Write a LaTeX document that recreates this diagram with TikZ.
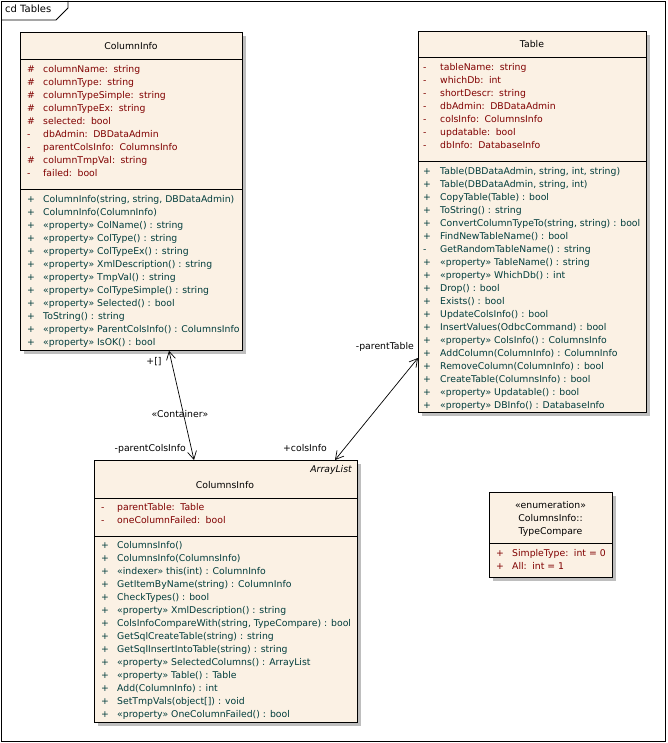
\documentclass[tikz,border=0pt]{standalone}
\usepackage{fontspec}
\setmainfont{DejaVu Sans}
\usetikzlibrary{arrows.meta,calc}
\definecolor{boxfill}{RGB}{251,241,228}
\definecolor{attrcol}{RGB}{128,0,0}
\definecolor{opcol}{RGB}{0,60,60}
\definecolor{shadowcol}{RGB}{190,190,190}
\newcommand{\tsep}{\hspace{5.5pt}}
\tikzset{
  every node/.style={font=\fontsize{9.3}{11}\selectfont, inner sep=0pt},
  classbox/.style={draw=black, line width=0.8pt, fill=boxfill, anchor=north west, inner sep=0pt},
  shadowbox/.style={fill=shadowcol, anchor=north west, inner sep=0pt},
  row/.style={anchor=west, text height=6.5pt, text depth=2pt},
  attr/.style={row, text=attrcol},
  oper/.style={row, text=opcol},
  title/.style={text height=6.5pt, text depth=2pt},
  divider/.style={line width=0.8pt},
  assoc/.style={line width=0.7pt, {Straight Barb[length=8pt,width=9pt]}-{Straight Barb[length=8pt,width=9pt]}},
  lbl/.style={text height=6.5pt, text depth=2pt},
}
\begin{document}
\begin{tikzpicture}[x=1pt,y=-1pt]
\useasboundingbox (0,0) rectangle (667,743);
\fill[white] (0,0) rectangle (667,743);
% frame
\node[draw, line width=0.8pt, anchor=north west, minimum width=664pt, minimum height=740pt] (frame) at (1,1) {};
\draw[line width=0.8pt] ([yshift=-19pt]frame.north west) -- ++(55,0) -- ++(12,-12) -- ([xshift=67pt]frame.north west);
\node[lbl, anchor=west, font=\fontsize{10}{12}\selectfont] (tabtxt) at (5,10) {cd Tables};

% ---------- ColumnInfo ----------
\node[shadowbox, minimum width=222pt, minimum height=318pt] (cishadow) at (24,36) {};
\node[classbox, minimum width=222pt, minimum height=318pt] (ci) at (20,32) {};
\node[title] (ci-title) at (131,47) {ColumnInfo};
\draw[divider] (ci.west |- 0,59) -- (ci.east |- 0,59);
\draw[divider] (ci.west |- 0,189) -- (ci.east |- 0,189);
\foreach \s/\t [count=\i from 0] in {
  \#/{columnName:\tsep string},
  \#/{columnType:\tsep string},
  \#/{columnTypeSimple:\tsep string},
  \#/{columnTypeEx:\tsep string},
  \#/{selected:\tsep bool},
  -/{dbAdmin:\tsep DBDataAdmin},
  -/{parentColsInfo:\tsep ColumnsInfo},
  \#/{columnTmpVal:\tsep string},
  -/{failed:\tsep bool}}{
  \node[attr] (ci-as\i) at (27,{70+13*\i}) {\s};
  \node[attr] (ci-a\i) at (43,{70+13*\i}) {\t};
}
\foreach \s/\t [count=\i from 0] in {
  +/{ColumnInfo(string, string, DBDataAdmin)},
  +/{ColumnInfo(ColumnInfo)},
  +/{«property» ColName() : string},
  +/{«property» ColType() : string},
  +/{«property» ColTypeEx() : string},
  +/{«property» XmlDescription() : string},
  +/{«property» TmpVal() : string},
  +/{«property» ColTypeSimple() : string},
  +/{«property» Selected() : bool},
  +/{ToString() : string},
  +/{«property» ParentColsInfo() : ColumnsInfo},
  +/{«property» IsOK() : bool}}{
  \node[oper] (ci-os\i) at (27,{200+13*\i}) {\s};
  \node[oper] (ci-o\i) at (43,{200+13*\i}) {\t};
}

% ---------- Table ----------
\node[shadowbox, minimum width=228pt, minimum height=381pt] (tbshadow) at (422,35) {};
\node[classbox, minimum width=228pt, minimum height=381pt] (tb) at (418,31) {};
\node[title] (tb-title) at (532,45) {Table};
\draw[divider] (tb.west |- 0,57) -- (tb.east |- 0,57);
\draw[divider] (tb.west |- 0,161) -- (tb.east |- 0,161);
\foreach \s/\t [count=\i from 0] in {
  -/{tableName:\tsep string},
  -/{whichDb:\tsep int},
  -/{shortDescr:\tsep string},
  -/{dbAdmin:\tsep DBDataAdmin},
  -/{colsInfo:\tsep ColumnsInfo},
  -/{updatable:\tsep bool},
  -/{dbInfo:\tsep DatabaseInfo}}{
  \node[attr] (tb-as\i) at (423,{68+13*\i}) {\s};
  \node[attr] (tb-a\i) at (440,{68+13*\i}) {\t};
}
\foreach \s/\t [count=\i from 0] in {
  +/{Table(DBDataAdmin, string, int, string)},
  +/{Table(DBDataAdmin, string, int)},
  +/{CopyTable(Table) : bool},
  +/{ToString() : string},
  +/{ConvertColumnTypeTo(string, string) : bool},
  +/{FindNewTableName() : bool},
  -/{GetRandomTableName() : string},
  +/{«property» TableName() : string},
  +/{«property» WhichDb() : int},
  +/{Drop() : bool},
  +/{Exists() : bool},
  +/{UpdateColsInfo() : bool},
  +/{InsertValues(OdbcCommand) : bool},
  +/{«property» ColsInfo() : ColumnsInfo},
  +/{AddColumn(ColumnInfo) : ColumnInfo},
  +/{RemoveColumn(ColumnInfo) : bool},
  +/{CreateTable(ColumnsInfo) : bool},
  +/{«property» Updatable() : bool},
  +/{«property» DBInfo() : DatabaseInfo}}{
  \node[oper] (tb-os\i) at (423,{172+13*\i}) {\s};
  \node[oper] (tb-o\i) at (440,{172+13*\i}) {\t};
}

% ---------- ColumnsInfo ----------
\node[shadowbox, minimum width=263pt, minimum height=262pt] (csshadow) at (98,464) {};
\node[classbox, minimum width=263pt, minimum height=262pt] (cs) at (94,460) {};
\node[title, anchor=east, font=\fontsize{9.3}{11}\selectfont\itshape] (cs-stereo) at (352,470) {ArrayList};
\node[title] (cs-title) at (225,486) {ColumnsInfo};
\draw[divider] (cs.west |- 0,498) -- (cs.east |- 0,498);
\draw[divider] (cs.west |- 0,536) -- (cs.east |- 0,536);
\foreach \s/\t [count=\i from 0] in {
  -/{parentTable:\tsep Table},
  -/{oneColumnFailed:\tsep bool}}{
  \node[attr] (cs-as\i) at (101,{508+13*\i}) {\s};
  \node[attr] (cs-a\i) at (117,{508+13*\i}) {\t};
}
\foreach \s/\t [count=\i from 0] in {
  +/{ColumnsInfo()},
  +/{ColumnsInfo(ColumnsInfo)},
  +/{«indexer» this(int) : ColumnInfo},
  +/{GetItemByName(string) : ColumnInfo},
  +/{CheckTypes() : bool},
  +/{«property» XmlDescription() : string},
  +/{ColsInfoCompareWith(string, TypeCompare) : bool},
  +/{GetSqlCreateTable(string) : string},
  +/{GetSqlInsertIntoTable(string) : string},
  +/{«property» SelectedColumns() : ArrayList},
  +/{«property» Table() : Table},
  +/{Add(ColumnInfo) : int},
  +/{SetTmpVals(object[]) : void},
  +/{«property» OneColumnFailed() : bool}}{
  \node[oper] (cs-os\i) at (101,{546+13*\i}) {\s};
  \node[oper] (cs-o\i) at (117,{546+13*\i}) {\t};
}

% ---------- Enumeration ----------
\node[shadowbox, minimum width=123pt, minimum height=85pt] (enshadow) at (493,496) {};
\node[classbox, minimum width=123pt, minimum height=85pt] (en) at (489,492) {};
\node[title] (en-st) at (550.5,506) {«enumeration»};
\node[title] (en-t1) at (550.5,519) {ColumnsInfo::};
\node[title] (en-t2) at (550.5,532) {TypeCompare};
\draw[divider] (en.west |- 0,543) -- (en.east |- 0,543);
\node[attr] (en-as0) at (496,554) {+};
\node[attr] (en-a0) at (512,554) {SimpleType:\tsep int = 0};
\node[attr] (en-as1) at (496,567) {+};
\node[attr] (en-a1) at (512,567) {All:\tsep int = 1};

% ---------- Associations ----------
\draw[assoc] ([xshift=149pt]ci.south west) -- ([xshift=100pt]cs.north west);
\draw[assoc] ([yshift=-327pt]tb.north west) -- ([xshift=241pt]cs.north west);
\node[lbl] (l-plus) at (154,362) {+[]};
\node[lbl] (l-cont) at (180,415) {«Container»};
\node[lbl, anchor=east] (l-pci) at (186,449) {-parentColsInfo};
\node[lbl, anchor=east] (l-pt) at (414,347) {-parentTable};
\node[lbl, anchor=west] (l-ci) at (283,449) {+colsInfo};
\end{tikzpicture}
\end{document}
